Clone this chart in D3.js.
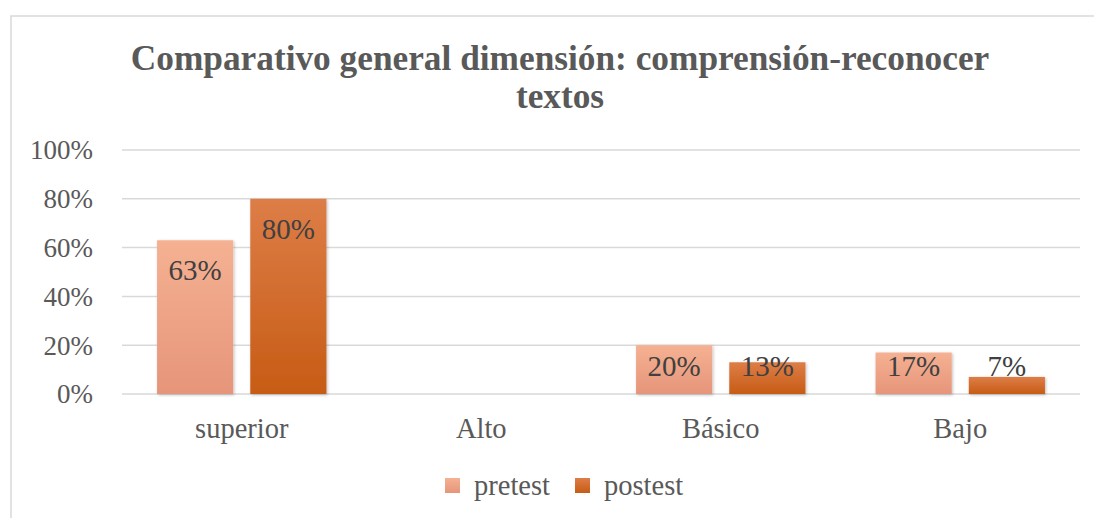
<!DOCTYPE html>
<html>
<head>
<meta charset="utf-8">
<script src="https://cdn.jsdelivr.net/npm/d3@7"></script>
<style>
  body { margin: 0; background: #fff; }
  text { font-family: "Liberation Serif", "Times New Roman", serif; fill: #595959; }
</style>
</head>
<body>
<svg width="1094" height="518"></svg>
<script>
// chart data
var categories = ['superior', 'Alto', 'Básico', 'Bajo'];
var seriesNames = ['pretest', 'postest'];
var pretest = [0.63, null, 0.20, 0.17];
var postest = [0.80, null, 0.13, 0.07];
var yTicks = [0, 0.2, 0.4, 0.6, 0.8, 1.0];
var titleLines = ['Comparativo general dimensión: comprensión-reconocer', 'textos'];

var svg = d3.select('svg');
var svgWidth = +svg.attr('width');
var svgHeight = +svg.attr('height');

var plot = {l: 122, r: 1080, t: 150, b: 394};

var defs = svg.append('defs');
function grad(id, c0, c1) {
    var g = defs.append('linearGradient').attr('id', id)
        .attr('x1', 0).attr('y1', 0).attr('x2', 0).attr('y2', 1);
    g.append('stop').attr('offset', '0%').attr('stop-color', c0);
    g.append('stop').attr('offset', '100%').attr('stop-color', c1);
}
grad('g-pre', '#f5b192', '#e6957a');
grad('g-post', '#dd7d47', '#c75c15');
var colors = {pretest: 'url(#g-pre)', postest: 'url(#g-post)'};

var shadow = defs.append('filter').attr('id', 'shadow')
    .attr('x', '-20%').attr('y', '-20%').attr('width', '140%').attr('height', '140%');
shadow.append('feDropShadow').attr('dx', 1).attr('dy', 1).attr('stdDeviation', 1.5)
    .attr('flood-color', '#000').attr('flood-opacity', 0.25);

// frame
svg.append('rect')
    .attr('x', 11).attr('y', 16)
    .attr('width', svgWidth).attr('height', svgHeight)
    .attr('fill', '#fff').attr('stroke', '#d9d9d9').attr('stroke-width', 1.5);

// title
svg.append('g').selectAll('text')
    .data(titleLines)
    .enter().append('text')
    .attr('x', 560)
    .attr('y', function(d, i) { return 70 + i * 38; })
    .attr('text-anchor', 'middle')
    .style('font-size', '35.3px')
    .style('font-weight', 'bold')
    .text(function(d) { return d; });

var xScale = d3.scaleBand().domain(categories).range([plot.l, plot.r]);
var xInner = d3.scaleBand().domain(seriesNames)
    .range([0, xScale.bandwidth()]).paddingInner(0.183).paddingOuter(0.376);
var yScale = d3.scaleLinear().domain([0, 1]).range([plot.b, plot.t]);

// gridlines
svg.append('g').selectAll('line')
    .data(yTicks)
    .enter().append('line')
    .attr('x1', plot.l).attr('x2', plot.r)
    .attr('y1', function(d) { return yScale(d); })
    .attr('y2', function(d) { return yScale(d); })
    .attr('stroke', '#d9d9d9').attr('stroke-width', 1.5);

// y axis labels
svg.append('g').selectAll('text')
    .data(yTicks)
    .enter().append('text')
    .attr('x', 93)
    .attr('y', function(d) { return yScale(d); })
    .attr('dy', '0.35em')
    .attr('text-anchor', 'end')
    .style('font-size', '27px')
    .text(d3.format('.0%'));

// x labels
svg.append('g').selectAll('text')
    .data(categories)
    .enter().append('text')
    .attr('x', function(d) { return xScale(d) + xScale.bandwidth() / 2; })
    .attr('y', 438)
    .attr('text-anchor', 'middle')
    .style('font-size', '28.5px')
    .text(function(d) { return d; });

var rows = [];
categories.forEach(function(c, i) {
    if (pretest[i] != null) rows.push({cat: c, s: 'pretest', v: pretest[i]});
    if (postest[i] != null) rows.push({cat: c, s: 'postest', v: postest[i]});
});

var barG = svg.append('g');
barG.selectAll('rect')
    .data(rows)
    .enter().append('rect')
    .attr('x', function(d) { return xScale(d.cat) + xInner(d.s); })
    .attr('y', function(d) { return yScale(d.v); })
    .attr('width', xInner.bandwidth())
    .attr('height', function(d) { return yScale(0) - yScale(d.v); })
    .attr('fill', function(d) { return colors[d.s]; })
    .attr('filter', 'url(#shadow)');

barG.selectAll('text')
    .data(rows)
    .enter().append('text')
    .attr('x', function(d) { return xScale(d.cat) + xInner(d.s) + xInner.bandwidth() / 2; })
    .attr('y', function(d) { return Math.min(yScale(d.v) + 40, yScale(0) - 18); })
    .attr('text-anchor', 'middle')
    .style('font-size', '29px')
    .style('fill', '#404040')
    .text(function(d) { return d3.format('.0%')(d.v); });

// legend
var legend = svg.append('g').selectAll('g')
    .data(seriesNames)
    .enter().append('g')
    .attr('transform', function(d, i) { return 'translate(' + (445 + i * 130) + ',478)'; });
legend.append('rect')
    .attr('width', 15).attr('height', 15)
    .attr('fill', function(d) { return colors[d]; });
legend.append('text')
    .attr('x', 29).attr('y', 17)
    .style('font-size', '28.5px')
    .text(function(d) { return d; });
</script>
</body>
</html>
